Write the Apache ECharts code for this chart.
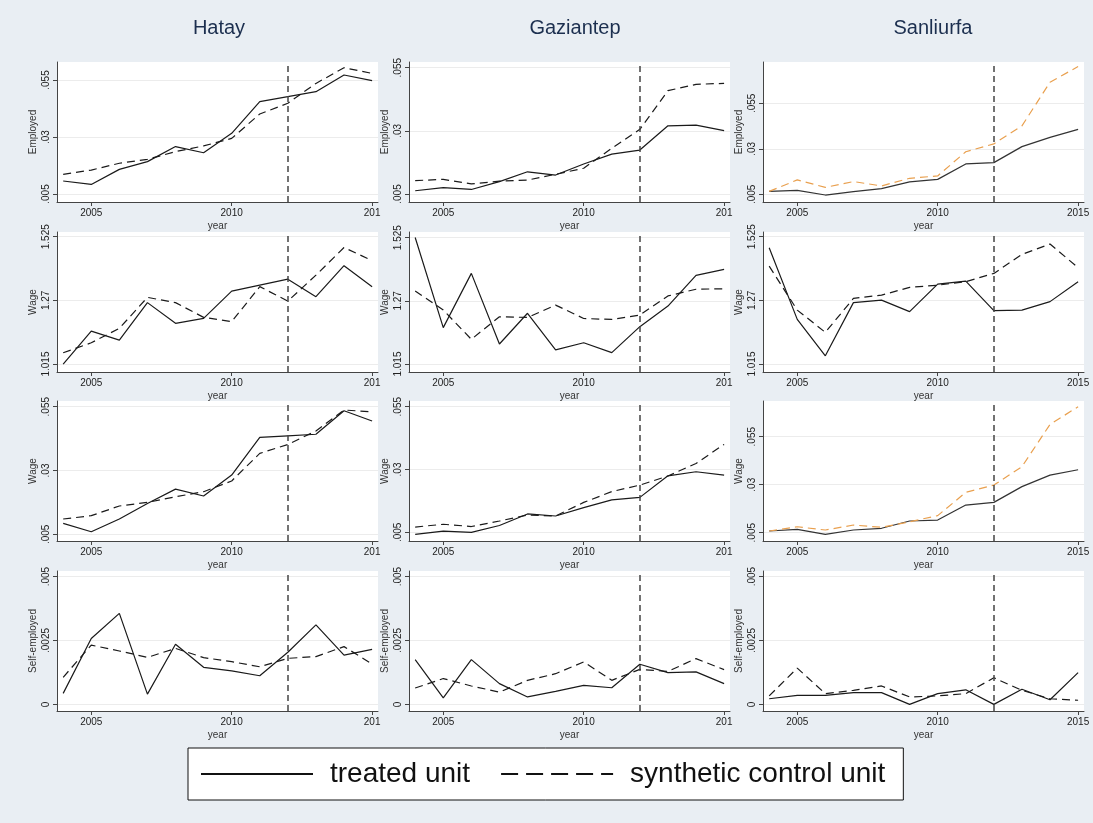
<!DOCTYPE html>
<html>
<head>
<meta charset="utf-8">
<script src="https://cdn.jsdelivr.net/npm/echarts@6/dist/echarts.min.js"></script>
<style>
html,body{margin:0;padding:0;background:#e9eef3;}
#chart{width:1093px;height:823px;}
</style>
</head>
<body>
<div id="chart"></div>
<script>
// ---------- data ----------
const years = [2004, 2005, 2006, 2007, 2008, 2009, 2010, 2011, 2012, 2013, 2014, 2015];
const regions = ['Hatay', 'Gaziantep', 'Sanliurfa'];
const outcomes = ['Employed', 'Wage', 'Wage', 'Self-employed'];
const treatmentYear = 2012;
const xTickValues = [2005, 2010, 2015];
const yTickValues = [
  [0.005, 0.03, 0.055],
  [1.015, 1.27, 1.525],
  [0.005, 0.03, 0.055],
  [0, 0.0025, 0.005]
];
const seriesNames = ['treated unit', 'synthetic control unit'];

// Row 1: Employed
const hatayEmployedTreated   = [0.0107, 0.0092, 0.0158, 0.0192, 0.0258, 0.0231, 0.0316, 0.0455, 0.0477, 0.0499, 0.0572, 0.0547];
const hatayEmployedSynth     = [0.0136, 0.0155, 0.0185, 0.0202, 0.0236, 0.0261, 0.0294, 0.0401, 0.0448, 0.0535, 0.0604, 0.0579];
const gaziEmployedTreated    = [0.0063, 0.0075, 0.0068, 0.0099, 0.0138, 0.0125, 0.0169, 0.0208, 0.0224, 0.0320, 0.0323, 0.0301];
const gaziEmployedSynth      = [0.0103, 0.0108, 0.0090, 0.0101, 0.0105, 0.0128, 0.0152, 0.0231, 0.0306, 0.0459, 0.0484, 0.0488];
const sanliEmployedTreated   = [0.0066, 0.0072, 0.0046, 0.0065, 0.0081, 0.0118, 0.0132, 0.0217, 0.0224, 0.0312, 0.0363, 0.0407];
const sanliEmployedSynth     = [0.0066, 0.0129, 0.0088, 0.0120, 0.0096, 0.0138, 0.0151, 0.0284, 0.0327, 0.0426, 0.0666, 0.0752];
// Row 2: Wage
const hatayWageTreated       = [1.015, 1.147, 1.111, 1.261, 1.178, 1.198, 1.307, 1.331, 1.355, 1.285, 1.409, 1.325];
const hatayWageSynth         = [1.060, 1.100, 1.158, 1.282, 1.261, 1.202, 1.185, 1.325, 1.267, 1.371, 1.482, 1.429];
const gaziWageTreated        = [1.526, 1.162, 1.381, 1.096, 1.220, 1.072, 1.101, 1.061, 1.166, 1.249, 1.373, 1.397];
const gaziWageSynth          = [1.310, 1.233, 1.115, 1.206, 1.203, 1.253, 1.199, 1.195, 1.213, 1.290, 1.317, 1.319];
const sanliWageTreated       = [1.481, 1.194, 1.048, 1.261, 1.271, 1.225, 1.335, 1.347, 1.229, 1.231, 1.265, 1.345];
const sanliWageSynth         = [1.407, 1.231, 1.142, 1.278, 1.291, 1.322, 1.331, 1.345, 1.378, 1.454, 1.496, 1.401];
// Row 3: Wage (share)
const hatayWage2Treated      = [0.0093, 0.0060, 0.0110, 0.0171, 0.0227, 0.0200, 0.0282, 0.0430, 0.0436, 0.0442, 0.0534, 0.0494];
const hatayWage2Synth        = [0.0110, 0.0123, 0.0161, 0.0175, 0.0197, 0.0217, 0.0259, 0.0367, 0.0402, 0.0455, 0.0537, 0.0530];
const gaziWage2Treated       = [0.0042, 0.0055, 0.0050, 0.0077, 0.0123, 0.0115, 0.0148, 0.0179, 0.0189, 0.0275, 0.0291, 0.0278];
const gaziWage2Synth         = [0.0071, 0.0082, 0.0073, 0.0095, 0.0119, 0.0115, 0.0169, 0.0212, 0.0238, 0.0274, 0.0324, 0.0400];
const sanliWage2Treated      = [0.0059, 0.0067, 0.0041, 0.0064, 0.0073, 0.0111, 0.0116, 0.0194, 0.0208, 0.0290, 0.0350, 0.0378];
const sanliWage2Synth        = [0.0059, 0.0081, 0.0064, 0.0090, 0.0078, 0.0107, 0.0139, 0.0260, 0.0298, 0.0394, 0.0614, 0.0706];
// Row 4: Self-employed
const hataySelfTreated       = [0.00043, 0.00258, 0.00356, 0.00040, 0.00235, 0.00145, 0.00131, 0.00112, 0.00204, 0.00311, 0.00193, 0.00215];
const hataySelfSynth         = [0.00106, 0.00232, 0.00209, 0.00184, 0.00219, 0.00183, 0.00167, 0.00147, 0.00180, 0.00187, 0.00226, 0.00158];
const gaziSelfTreated        = [0.00175, 0.00025, 0.00175, 0.00081, 0.00029, 0.00051, 0.00074, 0.00065, 0.00157, 0.00124, 0.00127, 0.00081];
const gaziSelfSynth          = [0.00064, 0.00101, 0.00072, 0.00048, 0.00094, 0.00120, 0.00166, 0.00094, 0.00137, 0.00129, 0.00179, 0.00136];
const sanliSelfTreated       = [0.00022, 0.00035, 0.00035, 0.00046, 0.00046, 0.00000, 0.00042, 0.00057, 0.00000, 0.00059, 0.00018, 0.00124];
const sanliSelfSynth         = [0.00033, 0.00142, 0.00042, 0.00055, 0.00072, 0.00029, 0.00033, 0.00042, 0.00104, 0.00055, 0.00022, 0.00016];

const panelData = [
  [[hatayEmployedTreated, hatayEmployedSynth], [gaziEmployedTreated, gaziEmployedSynth], [sanliEmployedTreated, sanliEmployedSynth]],
  [[hatayWageTreated, hatayWageSynth], [gaziWageTreated, gaziWageSynth], [sanliWageTreated, sanliWageSynth]],
  [[hatayWage2Treated, hatayWage2Synth], [gaziWage2Treated, gaziWage2Synth], [sanliWage2Treated, sanliWage2Synth]],
  [[hataySelfTreated, hataySelfSynth], [gaziSelfTreated, gaziSelfSynth], [sanliSelfTreated, sanliSelfSynth]]
];

// ---------- layout / style ----------
const FONT = '"Liberation Sans", Arial, Helvetica, sans-serif';
const colLeft = [57, 409, 763];
const colWidth = 321;
const rowTop = [62, 232, 401, 571];
const rowHeight = 140;
const xRange = [2003.78, 2015.21];
const yRanges = [
  [[0.0015, 0.0629], [0.00184, 0.05725], [0.00077, 0.0777]],
  [[0.983, 1.544], [0.983, 1.548], [0.983, 1.544]],
  [[0.00238, 0.05723], [0.00154, 0.05727], [0.00068, 0.0736]],
  [[-0.00026, 0.00522], [-0.00026, 0.00522], [-0.00026, 0.00522]]
];
const orangeCols = { '0-2': true, '2-2': true };
const titleCenters = [214, 570, 928];

function fmtY(v) {
  if (v === 0) return '0';
  return String(v).replace(/^0\./, '.');
}

const grids = [], xAxes = [], yAxes = [], series = [], titles = [];
regions.forEach((name, c) => {
  titles.push({
    text: name, left: titleCenters[c], top: 13, textAlign: 'center',
    textStyle: { fontFamily: FONT, fontSize: 20, fontWeight: 'normal', color: '#1c2f4f' }
  });
});

for (let r = 0; r < 4; r++) {
  for (let c = 0; c < 3; c++) {
    const idx = grids.length;
    grids.push({
      left: colLeft[c], top: rowTop[r], width: colWidth, height: rowHeight,
      show: true, backgroundColor: '#ffffff', borderWidth: 0
    });
    xAxes.push({
      type: 'value', gridIndex: idx, min: xRange[0], max: xRange[1],
      name: 'year', nameLocation: 'middle', nameGap: 19,
      nameTextStyle: { fontFamily: FONT, fontSize: 10, color: '#333' },
      axisLine: { show: true, onZero: false, lineStyle: { color: '#444', width: 1 } },
      axisTick: { show: true, length: 4, customValues: xTickValues, lineStyle: { color: '#444' } },
      axisLabel: {
        customValues: xTickValues, margin: 6,
        fontFamily: FONT, fontSize: 10, color: '#222',
        formatter: (v) => (c < 2 && v === 2015) ? '201' : String(v)
      },
      splitLine: { show: false }
    });
    yAxes.push({
      type: 'value', gridIndex: idx, min: yRanges[r][c][0], max: yRanges[r][c][1],
      name: outcomes[r], nameLocation: 'middle', nameGap: 19,
      nameTextStyle: { fontFamily: FONT, fontSize: 10, color: '#333' },
      axisLine: { show: true, lineStyle: { color: '#444', width: 1 } },
      axisTick: { show: true, length: 4, customValues: yTickValues[r], lineStyle: { color: '#444' } },
      axisLabel: {
        customValues: yTickValues[r], rotate: 90, margin: 6,
        fontFamily: FONT, fontSize: 10, color: '#222',
        formatter: fmtY
      },
      splitLine: { show: true, lineStyle: { color: '#ececec', width: 1 } }
    });
    const pair = panelData[r][c];
    const orange = orangeCols[r + '-' + c];
    series.push({
      name: seriesNames[0], type: 'line', xAxisIndex: idx, yAxisIndex: idx,
      data: years.map((y, i) => [y, pair[0][i]]),
      symbol: 'none', silent: true, animation: false,
      lineStyle: { color: orange ? '#333333' : '#1a1a1a', width: 1.2, type: 'solid' },
      itemStyle: { color: '#1a1a1a' },
      markLine: {
        silent: true, symbol: 'none', animation: false,
        label: { show: false },
        lineStyle: { color: '#444', width: 1.5, type: [6, 4] },
        data: [{ xAxis: treatmentYear }]
      }
    });
    series.push({
      name: seriesNames[1], type: 'line', xAxisIndex: idx, yAxisIndex: idx,
      data: years.map((y, i) => [y, pair[1][i]]),
      symbol: 'none', silent: true, animation: false,
      lineStyle: { color: orange ? '#e9a04f' : '#1a1a1a', width: 1.2, type: [8, 5] },
      itemStyle: { color: orange ? '#e9a04f' : '#1a1a1a' }
    });
  }
}

const chart = echarts.init(document.getElementById('chart'), null, { renderer: 'canvas' });
chart.setOption({
  backgroundColor: '#e9eef3',
  animation: false,
  title: titles,
  grid: grids,
  xAxis: xAxes,
  yAxis: yAxes,
  legend: {
    data: [
      { name: seriesNames[0], lineStyle: { type: 'solid', width: 2, color: '#111' } },
      { name: seriesNames[1], lineStyle: { type: [17, 8], width: 2, color: '#111' } }
    ],
    left: 188, top: 748,
    padding: [12, 18, 12, 12],
    backgroundColor: '#ffffff', borderColor: '#111', borderWidth: 1, borderRadius: 0,
    itemWidth: 112, itemHeight: 16, itemGap: 30,
    itemStyle: { opacity: 0, borderWidth: 0 },
    textStyle: { fontFamily: FONT, fontSize: 28, color: '#111', padding: [0, 0, 0, 12] },
    selectedMode: false
  },
  series: series
});
</script>
</body>
</html>
